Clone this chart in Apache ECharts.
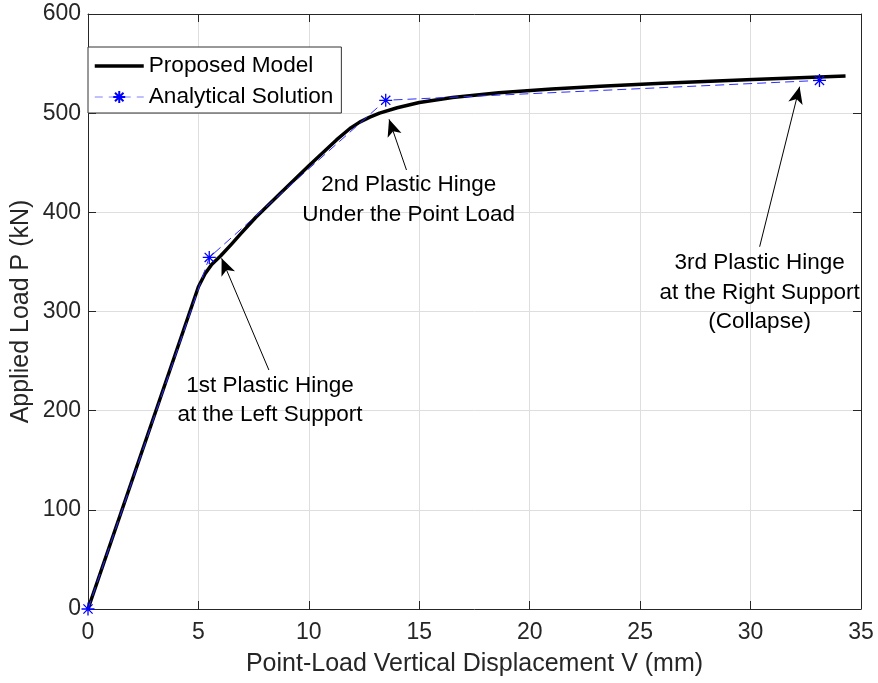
<!DOCTYPE html>
<html>
<head>
<meta charset="utf-8">
<script src="https://cdn.jsdelivr.net/npm/echarts@6/dist/echarts.min.js"></script>
<style>
  html, body { margin: 0; padding: 0; background: #fff; }
  #chart { width: 878px; height: 683px; }
</style>
</head>
<body>
<div id="chart"></div>
<script>
// Point-load vertical displacement V (mm) and applied load P (kN), proposed model
const modelV = [0, 5, 5.3, 5.6, 6, 6.5, 6.9, 7.6, 8.7, 10, 11.25, 11.86, 12.3, 12.76, 13.2, 14, 15, 16.5, 18.6, 21, 23.2, 26, 30.1, 34.3];
const modelP = [0, 325, 338, 347.5, 356, 368, 378, 395, 419, 447, 473, 484.5, 491, 496, 500, 505.5, 510.8, 515.8, 520.6, 524.4, 527.2, 530.2, 534, 537.6];

// Analytical solution: the successive plastic hinge states
const analyticalV = [0, 5.49, 13.48, 33.12];
const analyticalP = [0, 354.5, 513, 533];

// Axis ticks
const xTicks = [0, 5, 10, 15, 20, 25, 30, 35];
const yTicks = [0, 100, 200, 300, 400, 500, 600];

// Hinge annotations: text, text anchor, arrow tail and arrow head (data units)
const noteTexts = [
  '1st Plastic Hinge\nat the Left Support',
  '2nd Plastic Hinge\nUnder the Point Load',
  '3rd Plastic Hinge\nat the Right Support\n(Collapse)'
];
const noteAnchors = [[8.24, 210.7], [14.52, 412.4], [30.41, 319.2]];
const arrowTails = [[8.19, 241], [14.42, 442.7], [30.41, 365.3]];
const arrowHeads = [[6.05, 353.6], [13.63, 493.8], [32.22, 526.7]];

const FONT = 'Liberation Sans, Arial, Helvetica, sans-serif';
const AXIS_COLOR = '#262626';
const STAR = 'path://M0,-10L0,10M-10,0L10,0M-7.07,-7.07L7.07,7.07M-7.07,7.07L7.07,-7.07';

const pairs = (xs, ys) => xs.map((x, i) => [x, ys[i]]);

const xMin = xTicks[0], xMax = xTicks[xTicks.length - 1], xStep = xTicks[1] - xTicks[0];
const yMin = yTicks[0], yMax = yTicks[yTicks.length - 1], yStep = yTicks[1] - yTicks[0];

function baseAxis(extra) {
  return Object.assign({
    type: 'value',
    axisLine: { show: true, onZero: false, lineStyle: { color: AXIS_COLOR, width: 1 } },
    axisTick: { show: true, inside: true, length: 8, lineStyle: { color: AXIS_COLOR, width: 1 } },
    nameMoveOverlap: false
  }, extra);
}

const chart = echarts.init(document.getElementById('chart'), null, { renderer: 'canvas' });

chart.setOption({
  animation: false,
  backgroundColor: '#fff',
  textStyle: { fontFamily: FONT },
  grid: { left: 88, right: 17, top: 14, bottom: 74, outerBoundsMode: 'none', containLabel: false },
  legend: {
    data: [
      { name: 'Proposed Model', lineStyle: { width: 3.5, color: '#000' } },
      { name: 'Analytical Solution', lineStyle: { width: 1, color: '#8080ff', type: [8, 6] } }
    ],
    orient: 'vertical',
    left: 88,
    top: 47,
    itemWidth: 49,
    itemHeight: 15,
    itemGap: 7,
    padding: [7, 8, 4, 5],
    backgroundColor: '#fff',
    borderColor: '#333',
    borderWidth: 1,
    borderRadius: 0,
    selectedMode: false,
    textStyle: { fontSize: 22.6, lineHeight: 24, color: '#000', fontFamily: FONT, padding: [0, 0, 0, 0] }
  },
  xAxis: [
    baseAxis({
      position: 'bottom', min: xMin, max: xMax, interval: xStep,
      axisLabel: { fontSize: 23, color: AXIS_COLOR, margin: 12, fontFamily: FONT },
      splitLine: { show: true, lineStyle: { color: '#dedede', width: 1 } },
      name: 'Point-Load Vertical Displacement V (mm)',
      nameLocation: 'middle', nameGap: 43,
      nameTextStyle: { fontSize: 25, color: AXIS_COLOR, fontFamily: FONT }
    }),
    baseAxis({
      position: 'top', min: xMin, max: xMax, interval: xStep,
      axisLabel: { show: false }, splitLine: { show: false }
    })
  ],
  yAxis: [
    baseAxis({
      position: 'left', min: yMin, max: yMax, interval: yStep,
      axisLabel: { fontSize: 23, color: AXIS_COLOR, margin: 7, fontFamily: FONT },
      splitLine: { show: true, lineStyle: { color: '#dedede', width: 1 } },
      name: 'Applied Load P (kN)',
      nameLocation: 'middle', nameGap: 54, nameRotate: 90,
      nameTextStyle: { fontSize: 25, color: AXIS_COLOR, fontFamily: FONT }
    }),
    baseAxis({
      position: 'right', min: yMin, max: yMax, interval: yStep,
      axisLabel: { show: false }, splitLine: { show: false }
    })
  ],
  series: [
    {
      name: 'Proposed Model',
      type: 'line',
      data: pairs(modelV, modelP),
      symbol: 'circle',
      showSymbol: false,
      itemStyle: { color: '#000', opacity: 0 },
      lineStyle: { color: '#000', width: 3.5, join: 'round' },
      emphasis: { disabled: true },
      z: 3
    },
    {
      name: 'Analytical Solution',
      type: 'line',
      data: pairs(analyticalV, analyticalP),
      symbol: STAR,
      symbolSize: 13,
      showAllSymbol: true,
      itemStyle: { color: '#0000ff', borderColor: '#0000ff', borderWidth: 1.3 },
      lineStyle: { color: '#2d2dff', width: 1, type: [9, 5] },
      emphasis: { disabled: true },
      z: 4
    },
    {
      name: 'Hinges',
      type: 'scatter',
      data: [],
      silent: true,
      z: 5,
      markLine: {
        silent: true,
        symbol: ['none', 'arrow'],
        symbolSize: [11, 17],
        label: { show: false },
        lineStyle: { color: '#000', width: 1, type: 'solid' },
        emphasis: { disabled: true },
        data: arrowTails.map((t, i) => [{ coord: t }, { coord: arrowHeads[i] }])
      },
      markPoint: {
        silent: true,
        symbol: 'circle',
        symbolSize: 1,
        itemStyle: { color: 'rgba(0,0,0,0)' },
        label: {
          show: true,
          position: 'inside',
          color: '#000',
          fontSize: 22.5,
          lineHeight: 29.5,
          align: 'center',
          verticalAlign: 'middle',
          fontFamily: FONT,
          formatter: p => p.name
        },
        data: noteTexts.map((t, i) => ({ name: t, coord: noteAnchors[i] }))
      }
    }
  ]
});
</script>
</body>
</html>
